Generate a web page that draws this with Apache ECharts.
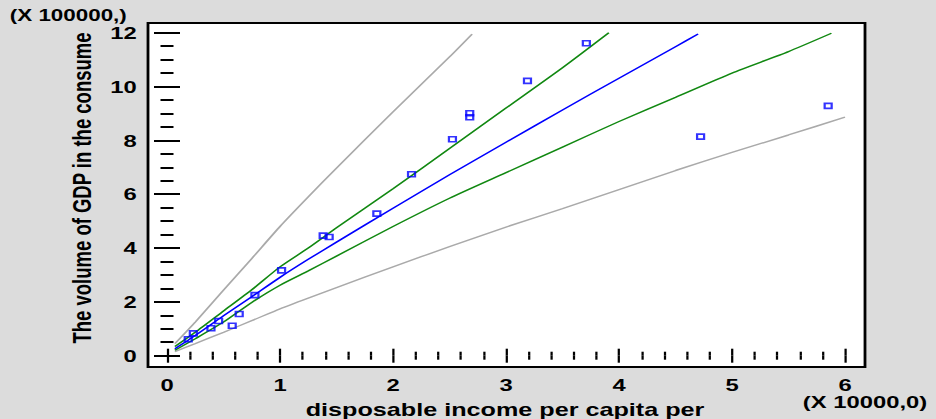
<!DOCTYPE html>
<html>
<head>
<meta charset="utf-8">
<script src="https://cdn.jsdelivr.net/npm/echarts@6/dist/echarts.min.js"></script>
<style>
html,body{margin:0;padding:0;background:#dcdcdc;overflow:hidden;width:936px;height:419px;}
#frame{position:absolute;box-sizing:border-box;background:#ffffff;border:2px solid #000000;}
#chart{position:absolute;left:0;top:0;height:419px;transform-origin:0 0;}
</style>
</head>
<body>
<div id="frame"></div>
<div id="chart"></div>
<script>
// ---------- data ----------
const seriesNames = ['upper prediction limit', 'lower prediction limit', 'upper confidence limit', 'lower confidence limit', 'fitted model', 'observed'];
const xTickValues = [0, 1, 2, 3, 4, 5, 6];
const xTickLabels = ['0', '1', '2', '3', '4', '5', '6'];
const yTickValues = [0, 2, 4, 6, 8, 10, 12];
const yTickLabels = ['0', '2', '4', '6', '8', '10', '12'];

const pointX = [0.188, 0.233, 0.389, 0.457, 0.577, 0.639, 0.778, 1.014, 1.382, 1.435, 1.857, 2.164, 2.526, 2.679, 2.679, 3.19, 3.711, 4.722, 5.851];
const pointY = [0.61, 0.83, 1.02, 1.29, 1.11, 1.55, 2.25, 3.17, 4.46, 4.41, 5.28, 6.74, 8.04, 9.01, 8.86, 10.21, 11.61, 8.14, 9.28];

const fitX = [0.07, 0.25, 0.5, 0.75, 1, 1.25, 1.5, 2, 2.5, 3, 3.5, 4, 4.5, 4.7];
const fitY = [0.26, 0.75, 1.48, 2.19, 2.91, 3.58, 4.22, 5.48, 6.72, 7.93, 9.13, 10.31, 11.48, 11.95];

const upperConfX = [0.07, 0.25, 0.5, 0.75, 1, 1.25, 1.5, 2, 2.5, 3, 3.5, 3.91];
const upperConfY = [0.34, 0.87, 1.66, 2.45, 3.3, 4.0, 4.75, 6.2, 7.7, 9.2, 10.7, 12.0];

const lowerConfX = [0.07, 0.25, 0.5, 0.75, 1, 1.25, 1.5, 2, 2.5, 3, 3.5, 4, 4.5, 5, 5.5, 5.88];
const lowerConfY = [0.2, 0.63, 1.25, 1.98, 2.62, 3.15, 3.7, 4.8, 5.85, 6.8, 7.75, 8.7, 9.6, 10.5, 11.3, 11.98];

const upperPredX = [0.07, 0.25, 0.5, 0.75, 1, 1.25, 1.5, 2, 2.5, 2.7];
const upperPredY = [0.45, 1.25, 2.44, 3.61, 4.8, 5.9, 6.97, 9.06, 11.1, 11.95];

const lowerPredX = [0.07, 0.25, 0.5, 0.75, 1, 1.25, 1.5, 2, 2.5, 3, 3.5, 4, 4.5, 5, 5.5, 6];
const lowerPredY = [0.15, 0.45, 0.87, 1.3, 1.74, 2.14, 2.53, 3.3, 4.05, 4.78, 5.46, 6.17, 6.88, 7.55, 8.2, 8.86];

const xTitle = 'disposable income per capita per';
const yTitle = 'The volume of GDP in the consume';
const xScaleNote = '(X 10000,0)';
const yScaleNote = '(X 100000,)';

// ---------- layout (display pixels); the reference is horizontally stretched ----------
const S = 1.4;
const W = 936 / S;
const plot = {left: 148, right: 865, top: 23, bottom: 367};
const inner = {left: 167, right: 845, top: 32.7, bottom: 355.7};
const FONT = 'Liberation Sans';

const frameEl = document.getElementById('frame');
frameEl.style.left = (plot.left - 1) + 'px';
frameEl.style.top = (plot.top - 1) + 'px';
frameEl.style.width = (plot.right - plot.left + 2) + 'px';
frameEl.style.height = (plot.bottom - plot.top + 2) + 'px';

const xFirst = xTickValues[0], xLast = xTickValues[xTickValues.length - 1];
const yFirst = yTickValues[0], yLast = yTickValues[yTickValues.length - 1];
const pxPerX = (inner.right - inner.left) / (xLast - xFirst);
const pxPerY = (inner.bottom - inner.top) / (yLast - yFirst);
const xMin = xFirst - (inner.left - plot.left) / pxPerX;
const xMax = xLast + (plot.right - inner.right) / pxPerX;
const yMin = yFirst - (plot.bottom - inner.bottom) / pxPerY;
const yMax = yLast + (inner.top - plot.top) / pxPerY;

function minorBetween(major, parts) {
  const out = [];
  for (let i = 0; i < major.length - 1; i++) {
    const step = (major[i + 1] - major[i]) / parts;
    for (let k = 1; k < parts; k++) out.push(Math.round((major[i] + k * step) * 1000) / 1000);
  }
  return out;
}
const xMinor = minorBetween(xTickValues, 5);
const yMinor = minorBetween(yTickValues, 4);

const el = document.getElementById('chart');
el.style.width = W + 'px';
el.style.transform = 'scaleX(' + S + ')';

function zip(xs, ys) { return xs.map((x, i) => [x, ys[i]]); }

const chart = echarts.init(el, null, {renderer: 'svg', width: W, height: 419});

function xAxisDef(pos, ticks, len, labels) {
  return {
    type: 'value', position: pos, min: xMin, max: xMax,
    axisLine: {show: false},
    axisTick: {show: true, inside: true, length: len, customValues: ticks, lineStyle: {color: '#000', width: 1.6}},
    splitLine: {show: false},
    axisLabel: labels ? {show: true, margin: 9, customValues: xTickValues,
      color: '#000', fontSize: 17, fontWeight: 'bold', fontFamily: FONT,
      formatter: (v) => xTickLabels[xTickValues.indexOf(Math.round(v))]} : {show: false}
  };
}
function yAxisDef(pos, ticks, len, labels) {
  return {
    type: 'value', position: pos, min: yMin, max: yMax,
    axisLine: {show: false},
    axisTick: {show: true, inside: true, length: len, customValues: ticks, lineStyle: {color: '#000', width: 2}},
    splitLine: {show: false},
    axisLabel: labels ? {show: true, margin: 8, customValues: yTickValues,
      color: '#000', fontSize: 17, fontWeight: 'bold', fontFamily: FONT,
      formatter: (v) => yTickLabels[yTickValues.indexOf(Math.round(v))]} : {show: false}
  };
}

function lineSeries(name, xs, ys, color) {
  return {
    name: name, type: 'line', data: zip(xs, ys), showSymbol: false, smooth: 0.2,
    lineStyle: {color: color, width: 1.4}, z: 3
  };
}

chart.setOption({
  animation: false,
  backgroundColor: 'transparent',
  grid: {
    show: true, backgroundColor: '#fff', borderColor: '#000', borderWidth: 2,
    left: plot.left / S, top: plot.top,
    width: (plot.right - plot.left) / S, height: plot.bottom - plot.top
  },
  xAxis: [
    xAxisDef('bottom', xTickValues, 7, true),
    xAxisDef('bottom', xMinor, 4, false),
    xAxisDef('top', xTickValues, 7, false),
    xAxisDef('top', xMinor, 4, false)
  ],
  yAxis: [
    yAxisDef('left', yTickValues, 13 / S, true),
    yAxisDef('left', yMinor, 6.5 / S, false),
    yAxisDef('right', yTickValues, 13 / S, false),
    yAxisDef('right', yMinor, 6.5 / S, false)
  ],
  graphic: {
    elements: [
      {type: 'text', z: 10, x: 7, y: 15.5,
       style: {text: yScaleNote, font: 'bold 16px ' + FONT, fill: '#000', textAlign: 'left', textVerticalAlign: 'middle'}},
      {type: 'text', z: 10, x: 865 / S, y: 402,
       style: {text: xScaleNote, font: 'bold 17px ' + FONT, fill: '#000', textAlign: 'center', textVerticalAlign: 'middle'}},
      {type: 'text', z: 10, x: 505 / S, y: 410,
       style: {text: xTitle, font: 'bold 18px ' + FONT, fill: '#000', textAlign: 'center', textVerticalAlign: 'middle'}},
      {type: 'text', z: 10, x: 82.5 / S, y: 188, rotation: Math.PI / 2,
       style: {text: yTitle, font: 'bold 18.5px ' + FONT, fill: '#000', textAlign: 'center', textVerticalAlign: 'middle'}}
    ]
  },
  series: [
    lineSeries(seriesNames[0], upperPredX, upperPredY, '#aaaaaa'),
    lineSeries(seriesNames[1], lowerPredX, lowerPredY, '#aaaaaa'),
    lineSeries(seriesNames[2], upperConfX, upperConfY, '#118811'),
    lineSeries(seriesNames[3], lowerConfX, lowerConfY, '#118811'),
    lineSeries(seriesNames[4], fitX, fitY, '#0000ff'),
    {
      name: seriesNames[5], type: 'scatter', data: zip(pointX, pointY),
      symbol: 'rect', symbolSize: [5, 5], z: 5,
      itemStyle: {color: 'rgba(0,0,0,0)', borderColor: '#0000ff', borderWidth: 1.6}
    }
  ]
});
</script>
</body>
</html>
